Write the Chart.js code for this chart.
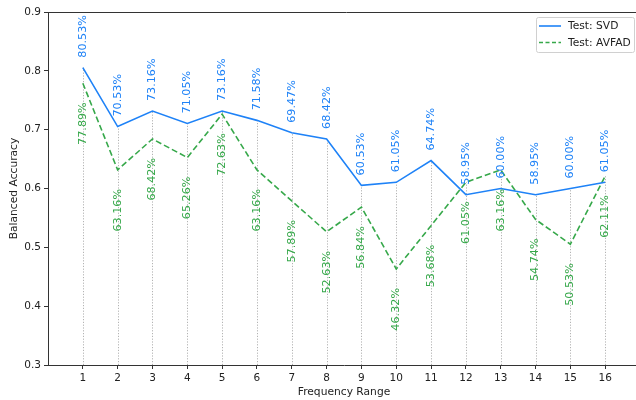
<!DOCTYPE html>
<html>
<head>
<meta charset="utf-8">
<script src="https://cdn.jsdelivr.net/npm/chart.js@4.4.0/dist/chart.umd.min.js"></script>
<style>
  html, body { margin: 0; padding: 0; background: #fff; overflow: hidden; width: 636px; height: 400px; }
  #wrap { width: 644px; height: 400px; position: relative; }
</style>
</head>
<body>
<div id="wrap"><canvas id="c" width="644" height="400"></canvas></div>
<script>
const categories = [1, 2, 3, 4, 5, 6, 7, 8, 9, 10, 11, 12, 13, 14, 15, 16];
const svdValues = [80.53, 70.53, 73.16, 71.05, 73.16, 71.58, 69.47, 68.42, 60.53, 61.05, 64.74, 58.95, 60.00, 58.95, 60.00, 61.05];
const avfadValues = [77.89, 63.16, 68.42, 65.26, 72.63, 63.16, 57.89, 52.63, 56.84, 46.32, 53.68, 61.05, 63.16, 54.74, 50.53, 62.11];
const seriesNames = ['Test: SVD', 'Test: AVFAD'];
const yTicks = [0.3, 0.4, 0.5, 0.6, 0.7, 0.8, 0.9];
const xTitle = 'Frequency Range';
const yTitle = 'Balanced Accuracy';

const SVD_COLOR = '#1e82f7';
const AVFAD_COLOR = '#36a84a';
const FONT = '"DejaVu Sans", sans-serif';

const svdData = categories.map((c, i) => ({ x: c, y: svdValues[i] / 100 }));
const avfadData = categories.map((c, i) => ({ x: c, y: avfadValues[i] / 100 }));

const decor = {
  id: 'decor',
  beforeDatasetsDraw(chart) {
    const ctx = chart.ctx, xs = chart.scales.x, ys = chart.scales.y;
    ctx.save();
    ctx.strokeStyle = '#a0a0a0';
    ctx.lineWidth = 0.8;
    ctx.setLineDash([1.2, 1.6]);
    categories.forEach((c, i) => {
      const x = Math.round(xs.getPixelForValue(c)) + 0.5;
      const top = ys.getPixelForValue(Math.max(svdValues[i], avfadValues[i]) / 100);
      ctx.beginPath();
      ctx.moveTo(x, ys.getPixelForValue(yTicks[0]));
      ctx.lineTo(x, top);
      ctx.stroke();
    });
    ctx.restore();
  },
  afterDatasetsDraw(chart) {
    const ctx = chart.ctx, xs = chart.scales.x, ys = chart.scales.y, a = chart.chartArea;
    ctx.save();
    ctx.font = '11.2px ' + FONT;
    ctx.textBaseline = 'middle';
    categories.forEach((c, i) => {
      const x = xs.getPixelForValue(c);
      let y = ys.getPixelForValue(svdValues[i] / 100);
      ctx.save();
      ctx.translate(x, y - 10);
      ctx.rotate(-Math.PI / 2);
      ctx.textAlign = 'left';
      ctx.fillStyle = SVD_COLOR;
      ctx.fillText(svdValues[i].toFixed(2) + '%', 0, 0);
      ctx.restore();
      y = ys.getPixelForValue(avfadValues[i] / 100);
      ctx.save();
      ctx.translate(x, y + 19);
      ctx.rotate(-Math.PI / 2);
      ctx.textAlign = 'right';
      ctx.fillStyle = AVFAD_COLOR;
      ctx.fillText(avfadValues[i].toFixed(2) + '%', 0, 0);
      ctx.restore();
    });

    // top spine
    ctx.strokeStyle = '#333';
    ctx.lineWidth = 1;
    ctx.beginPath();
    ctx.moveTo(a.left, Math.round(a.top) + 0.5);
    ctx.lineTo(a.right + 10, Math.round(a.top) + 0.5);
    ctx.stroke();

    // legend
    const lx = 536, ly = 17, lw = 98, lh = 35;
    ctx.fillStyle = 'rgba(255,255,255,0.85)';
    ctx.strokeStyle = '#d0d0d0';
    ctx.lineWidth = 1;
    ctx.beginPath();
    ctx.roundRect(lx + 0.5, ly + 0.5, lw, lh, 2);
    ctx.fill();
    ctx.stroke();
    const rows = [
      { name: seriesNames[0], color: SVD_COLOR, dash: [] },
      { name: seriesNames[1], color: AVFAD_COLOR, dash: [4, 2.5] }
    ];
    rows.forEach((r, k) => {
      const ry = ly + 9 + k * 16.5;
      ctx.strokeStyle = r.color;
      ctx.lineWidth = 1.6;
      ctx.setLineDash(r.dash);
      ctx.beginPath();
      ctx.moveTo(lx + 3, ry);
      ctx.lineTo(lx + 25, ry);
      ctx.stroke();
      ctx.setLineDash([]);
      ctx.fillStyle = '#222';
      ctx.font = '10.7px ' + FONT;
      ctx.textAlign = 'left';
      ctx.textBaseline = 'middle';
      ctx.fillText(r.name, lx + 32, ry + 0.5);
    });

    // axis titles
    ctx.fillStyle = '#222';
    ctx.font = '10.7px ' + FONT;
    ctx.textAlign = 'center';
    ctx.textBaseline = 'middle';
    ctx.fillText(xTitle, (a.left + a.right) / 2, 392);
    ctx.save();
    ctx.translate(14, (a.top + a.bottom) / 2);
    ctx.rotate(-Math.PI / 2);
    ctx.fillText(yTitle, 0, 0);
    ctx.restore();
    ctx.restore();
  }
};

new Chart(document.getElementById('c'), {
  type: 'line',
  data: {
    datasets: [
      { label: seriesNames[0], data: svdData, borderColor: SVD_COLOR, borderWidth: 1.6, pointRadius: 0, fill: false, tension: 0 },
      { label: seriesNames[1], data: avfadData, borderColor: AVFAD_COLOR, borderWidth: 1.6, borderDash: [6, 3], pointRadius: 0, fill: false, tension: 0 }
    ]
  },
  options: {
    responsive: false,
    animation: false,
    events: [],
    layout: { padding: { left: 0, right: 4, top: 12, bottom: 0 } },
    plugins: { legend: { display: false }, tooltip: { enabled: false } },
    scales: {
      x: {
        type: 'linear',
        min: 0, max: 17,
        afterFit(s) { s.height = 35; },
        afterBuildTicks(s) { s.ticks = categories.map(v => ({ value: v })); },
        ticks: { stepSize: 1, autoSkip: false, maxRotation: 0, color: '#222', font: { family: FONT, size: 10.5 }, padding: 3, callback: v => String(v) },
        grid: { drawOnChartArea: false, drawTicks: true, tickLength: 4, color: '#333', tickWidth: 1 },
        border: { display: true, color: '#333', width: 1 }
      },
      y: {
        type: 'linear',
        min: yTicks[0], max: yTicks[yTicks.length - 1],
        afterFit(s) { s.width = 48; },
        afterBuildTicks(s) { s.ticks = yTicks.map(v => ({ value: v })); },
        ticks: { color: '#222', font: { family: FONT, size: 10.5 }, padding: 3, callback: v => Number(v).toFixed(1) },
        grid: { drawOnChartArea: false, drawTicks: true, tickLength: 4, color: '#333', tickWidth: 1 },
        border: { display: true, color: '#333', width: 1 }
      }
    }
  },
  plugins: [decor]
});
</script>
</body>
</html>
